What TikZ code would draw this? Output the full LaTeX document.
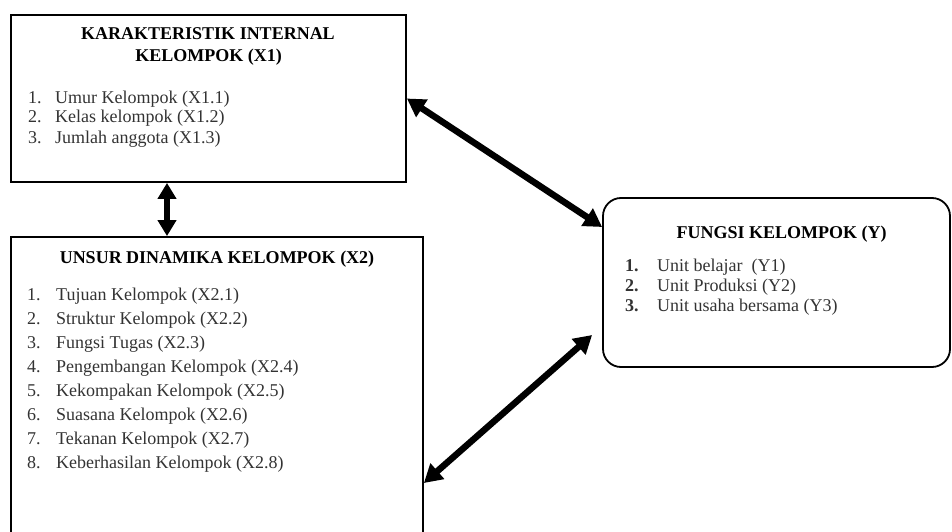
\documentclass[tikz,border=0pt]{standalone}
\usepackage{fontspec}
\setmainfont{Liberation Serif}
\usetikzlibrary{arrows.meta}
\begin{document}
\begin{tikzpicture}[x=1pt,y=-1pt,
  box/.style={draw=black, line width=1.8pt, inner sep=0pt},
  ttl/.style={font=\fontsize{18}{21}\selectfont\bfseries, inner sep=0pt, anchor=base},
  itm/.style={font=\fontsize{18}{20}\selectfont, text=black!80, inner sep=0pt, anchor=base west},
  link/.style={line width=6.5pt, {Triangle[width=20pt,length=18pt]}-{Triangle[width=20pt,length=18pt]}},
  vlink/.style={line width=5.5pt, {Triangle[width=18pt,length=16pt]}-{Triangle[width=18pt,length=16pt]}}]
\useasboundingbox (0,0) rectangle (952,532);
\clip (0,0) rectangle (952,532);
% boxes
\node[box, minimum width=395pt, minimum height=167pt] (x1) at (208.5,98.5) {};
\node[box, minimum width=412pt, minimum height=330pt] (x2) at (217,402) {};
\node[box, rounded corners=18pt, minimum width=347pt, minimum height=169pt] (y) at (776.5,282.5) {};
% titles
\node[ttl] (x1t1) at (208,40) {KARAKTERISTIK INTERNAL};
\node[ttl] (x1t2) at (208.5,62) {KELOMPOK (X1)};
\node[ttl] (x2t) at (217,263) {UNSUR DINAMIKA KELOMPOK (X2)};
\node[ttl] (yt) at (781.5,238) {FUNGSI KELOMPOK (Y)};
% items X1
\foreach \t [count=\i] in {{Umur Kelompok (X1.1)},{Kelas kelompok (X1.2)},{Jumlah anggota (X1.3)}}{
  \node[itm] (x1n\i) at (28,{103+20*(\i-1)}) {\i.};
  \node[itm] (x1i\i) at (55,{103+20*(\i-1)}) {\t};
}
% items X2
\foreach \t [count=\i] in {{Tujuan Kelompok (X2.1)},{Struktur Kelompok (X2.2)},{Fungsi Tugas (X2.3)},{Pengembangan Kelompok (X2.4)},{Kekompakan Kelompok (X2.5)},{Suasana Kelompok (X2.6)},{Tekanan Kelompok (X2.7)},{Keberhasilan Kelompok (X2.8)}}{
  \node[itm] (x2n\i) at (27,{300+24*(\i-1)}) {\i.};
  \node[itm] (x2i\i) at (56,{300+24*(\i-1)}) {\t};
}
% items Y
\foreach \t [count=\i] in {{Unit belajar\ \ (Y1)},{Unit Produksi (Y2)},{Unit usaha bersama (Y3)}}{
  \node[itm, font=\fontsize{18}{20}\selectfont\bfseries] (yn\i) at (625,{271+20*(\i-1)}) {\i.};
  \node[itm] (yi\i) at (657,{271+20*(\i-1)}) {\t};
}
% connectors
\draw[link] (x1.east) -- ([yshift=55.5pt]y.west);
\draw[vlink] ([xshift=-41.5pt]x1.south) -- ([xshift=-41.5pt]x1.south |- x2.north);
\draw[link] ([yshift=-81pt]x2.east) -- ([xshift=-10pt,yshift=-52.5pt]y.west);
\end{tikzpicture}
\end{document}
